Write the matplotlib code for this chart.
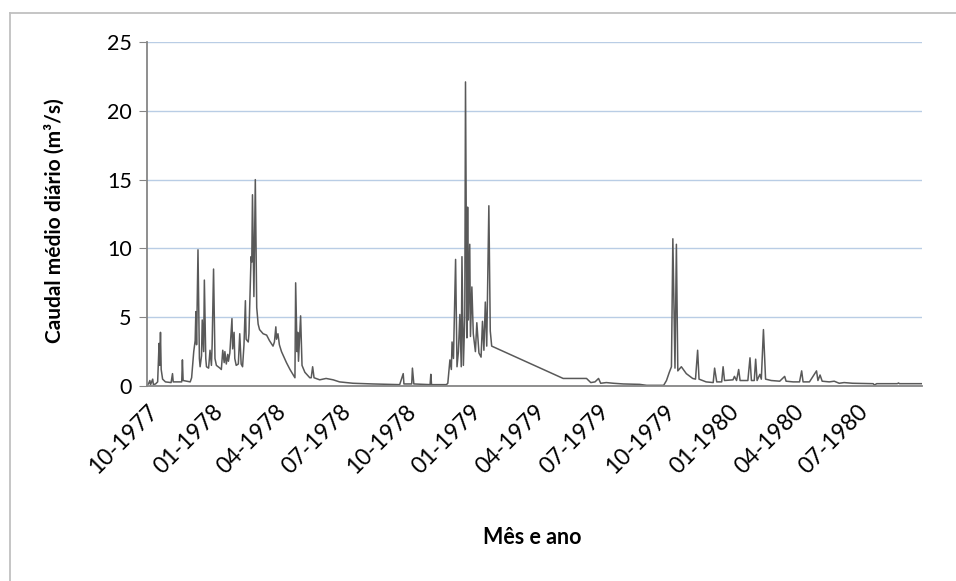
import matplotlib
matplotlib.use("Agg")
import matplotlib.pyplot as plt
import matplotlib.dates as mdates
from matplotlib.lines import Line2D
import pandas as pd

plt.rcParams['font.family'] = ['Lato', 'DejaVu Sans']

# caudal médio diário (datas e valores em m3/s)
datas = [
    "1977-10-01", "1977-10-03", "1977-10-05", "1977-10-06", "1977-10-09", "1977-10-10",
    "1977-10-13", "1977-10-16", "1977-10-18", "1977-10-19", "1977-10-20", "1977-10-21",
    "1977-10-23", "1977-10-27", "1977-11-04", "1977-11-06", "1977-11-07", "1977-11-19",
    "1977-11-20", "1977-11-21", "1977-12-01", "1977-12-03", "1977-12-06", "1977-12-08",
    "1977-12-09", "1977-12-10", "1977-12-12", "1977-12-14", "1977-12-15", "1977-12-17",
    "1977-12-18", "1977-12-20", "1977-12-21", "1977-12-23", "1977-12-24", "1977-12-27",
    "1977-12-29", "1977-12-31", "1978-01-01", "1978-01-03", "1978-01-05", "1978-01-07",
    "1978-01-12", "1978-01-14", "1978-01-16", "1978-01-18", "1978-01-19", "1978-01-21",
    "1978-01-23", "1978-01-24", "1978-01-26", "1978-01-29", "1978-01-30", "1978-02-01",
    "1978-02-02", "1978-02-04", "1978-02-07", "1978-02-09", "1978-02-11", "1978-02-13",
    "1978-02-15", "1978-02-17", "1978-02-18", "1978-02-21", "1978-02-22", "1978-02-25",
    "1978-02-26", "1978-02-27", "1978-03-01", "1978-03-03", "1978-03-05", "1978-03-07",
    "1978-03-09", "1978-03-14", "1978-03-19", "1978-03-23", "1978-03-28", "1978-03-30",
    "1978-04-01", "1978-04-02", "1978-04-04", "1978-04-06", "1978-04-09", "1978-04-16",
    "1978-04-21", "1978-04-28", "1978-04-29", "1978-05-01", "1978-05-02", "1978-05-03",
    "1978-05-06", "1978-05-08", "1978-05-12", "1978-05-19", "1978-05-21", "1978-05-23",
    "1978-05-25", "1978-06-02", "1978-06-11", "1978-06-21", "1978-06-30", "1978-07-19",
    "1978-08-16", "1978-09-23", "1978-09-28", "1978-09-29", "1978-10-10", "1978-10-11",
    "1978-10-13", "1978-11-05", "1978-11-06", "1978-11-07", "1978-11-28", "1978-11-30",
    "1978-12-03", "1978-12-05", "1978-12-06", "1978-12-08", "1978-12-11", "1978-12-13",
    "1978-12-15", "1978-12-17", "1978-12-19", "1978-12-20", "1978-12-22", "1978-12-24",
    "1978-12-25", "1978-12-27", "1978-12-28", "1978-12-29", "1978-12-31", "1979-01-01",
    "1979-01-03", "1979-01-05", "1979-01-08", "1979-01-10", "1979-01-13", "1979-01-16",
    "1979-01-18", "1979-01-20", "1979-01-22", "1979-01-24", "1979-01-27", "1979-01-29",
    "1979-01-31", "1979-05-12", "1979-06-14", "1979-06-20", "1979-06-26", "1979-07-01",
    "1979-07-04", "1979-07-12", "1979-07-22", "1979-08-05", "1979-08-28", "1979-09-07",
    "1979-10-01", "1979-10-05", "1979-10-09", "1979-10-12", "1979-10-14", "1979-10-17",
    "1979-10-19", "1979-10-21", "1979-10-26", "1979-11-02", "1979-11-11", "1979-11-15",
    "1979-11-18", "1979-11-20", "1979-11-30", "1979-12-10", "1979-12-12", "1979-12-15",
    "1979-12-22", "1979-12-24", "1979-12-26", "1980-01-07", "1980-01-09", "1980-01-12",
    "1980-01-15", "1980-01-17", "1980-01-28", "1980-01-31", "1980-02-02", "1980-02-06",
    "1980-02-08", "1980-02-10", "1980-02-14", "1980-02-16", "1980-02-19", "1980-02-22",
    "1980-03-01", "1980-03-13", "1980-03-20", "1980-03-22", "1980-04-01", "1980-04-10",
    "1980-04-13", "1980-04-15", "1980-04-24", "1980-05-04", "1980-05-06", "1980-05-09",
    "1980-05-12", "1980-05-22", "1980-05-29", "1980-06-05", "1980-06-12", "1980-06-24",
    "1980-07-23", "1980-07-25", "1980-07-28", "1980-08-26", "1980-08-28", "1980-08-29",
    "1980-09-30",
]
caudal = [
    0.10, 0.15, 0.40, 0.10, 0.50, 0.10,
    0.15, 0.30, 3.10, 1.50, 3.90, 1.20,
    0.50, 0.30, 0.25, 0.90, 0.30, 0.30,
    1.90, 0.40, 0.30, 0.60, 2.50, 3.30,
    5.40, 3.00, 9.90, 2.00, 1.40, 2.20,
    4.80, 2.50, 7.70, 2.00, 1.40, 1.30,
    2.60, 1.50, 3.00, 8.50, 2.00, 1.50,
    1.30, 1.20, 2.60, 1.70, 2.50, 1.60,
    2.30, 1.80, 2.40, 4.90, 2.70, 3.90,
    2.00, 1.50, 1.60, 3.80, 1.60, 1.40,
    3.00, 6.20, 3.40, 3.20, 3.80, 9.40,
    9.00, 13.90, 6.50, 15.00, 5.70, 4.50,
    4.10, 3.80, 3.70, 3.30, 2.90, 3.20,
    4.30, 3.40, 3.80, 3.00, 2.50, 1.70,
    1.20, 0.60, 7.50, 2.50, 3.90, 1.80,
    5.10, 1.50, 1.00, 0.60, 0.60, 1.40,
    0.60, 0.45, 0.55, 0.45, 0.30, 0.20,
    0.15, 0.10, 0.90, 0.15, 0.15, 1.30,
    0.15, 0.10, 0.85, 0.10, 0.10, 0.20,
    1.90, 1.20, 3.20, 2.00, 9.20, 1.40,
    2.50, 5.20, 1.40, 9.40, 1.50, 5.00,
    22.10, 3.50, 13.00, 4.80, 10.30, 3.60,
    7.20, 3.80, 2.50, 4.60, 2.40, 2.10,
    4.70, 2.60, 6.10, 2.90, 13.10, 4.00,
    2.90, 0.55, 0.55, 0.25, 0.30, 0.55,
    0.20, 0.25, 0.20, 0.15, 0.12, 0.05,
    0.05, 0.40, 1.00, 1.40, 10.70, 1.30,
    10.30, 1.10, 1.40, 0.90, 0.55, 0.50,
    2.60, 0.50, 0.30, 0.25, 1.30, 0.30,
    0.30, 1.40, 0.40, 0.45, 0.70, 0.40,
    1.20, 0.40, 0.40, 2.05, 0.40, 0.40,
    1.95, 0.40, 0.85, 0.50, 4.10, 0.50,
    0.40, 0.35, 0.70, 0.35, 0.30, 0.30,
    1.10, 0.30, 0.30, 1.10, 0.40, 0.80,
    0.35, 0.30, 0.35, 0.20, 0.25, 0.20,
    0.17, 0.07, 0.17, 0.17, 0.22, 0.17,
    0.17,
]

y_ticks = [0, 5, 10, 15, 20, 25]
x_ticks = ["1977-10-01", "1978-01-01", "1978-04-01", "1978-07-01", "1978-10-01", "1979-01-01",
           "1979-04-01", "1979-07-01", "1979-10-01", "1980-01-01", "1980-04-01", "1980-07-01"]

fig = plt.figure(figsize=(9.56, 5.81), dpi=100)
ax = fig.add_axes([0.1538, 0.3356, 0.8106, 0.5921])

ax.plot(pd.to_datetime(datas), caudal, color="#595959", linewidth=1.1)

ax.set_ylim(0, 25)
ax.set_yticks(y_ticks)
ax.set_xlim(pd.Timestamp("1977-10-01"), pd.Timestamp("1980-09-30"))
ax.set_xticks(pd.to_datetime(x_ticks))
ax.xaxis.set_major_formatter(mdates.DateFormatter("%m-%Y"))

ax.grid(axis="y", color="#b9cde5", linewidth=1.0)
ax.set_axisbelow(True)
for s in ["top", "right"]:
    ax.spines[s].set_visible(False)
for s in ["left", "bottom"]:
    ax.spines[s].set_color("#868686")
    ax.spines[s].set_linewidth(1.3)

ax.tick_params(axis="y", length=6, color="#868686", labelsize=15.5, pad=5)
ax.tick_params(axis="x", length=0, labelsize=16.5, pad=11)
plt.setp(ax.get_xticklabels(), rotation=45, ha="right", rotation_mode="anchor")

ax.set_ylabel("Caudal médio diário (m³/s)", fontsize=15, fontweight="bold")
ax.yaxis.set_label_coords(-0.119, 0.48)
ax.yaxis.label.set_va("center")
ax.set_xlabel("Mês e ano", fontsize=15.5, fontweight="bold")
ax.xaxis.set_label_coords(0.497, -0.439)
ax.xaxis.label.set_va("center")

# moldura do gráfico (só se vê à esquerda e em cima)
fig.add_artist(Line2D([10 / 956, 10 / 956], [0, 1 - 13 / 581], color="#c0c0c0", linewidth=1.3))
fig.add_artist(Line2D([10 / 956, 1], [1 - 13 / 581, 1 - 13 / 581], color="#c0c0c0", linewidth=1.3))

fig.savefig("out.png", dpi=100)
